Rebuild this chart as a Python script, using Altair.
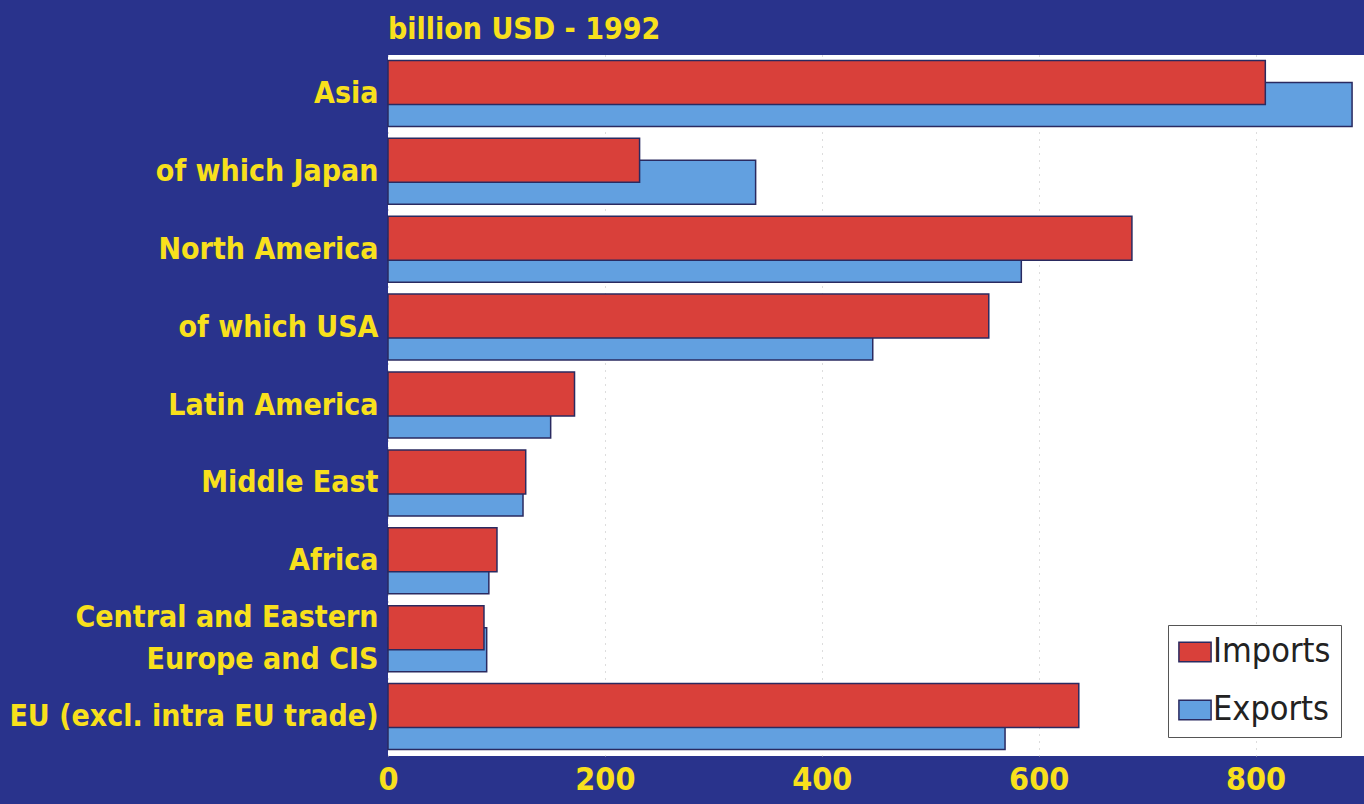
import altair as alt
import pandas as pd

categories = [
    "Asia",
    "of which Japan",
    "North America",
    "of which USA",
    "Latin America",
    "Middle East",
    "Africa",
    "Central and Eastern Europe and CIS",
    "EU (excl. intra EU trade)",
]
imports = [809, 232, 686, 554, 172, 127, 100.5, 88.5, 637]
exports = [889, 339, 584, 447, 150, 124.5, 93, 91, 569]
x_ticks = [0, 200, 400, 600, 800]

rows = []
for c, i, e in zip(categories, imports, exports):
    rows.append({"region": c, "flow": "Imports", "value": i})
    rows.append({"region": c, "flow": "Exports", "value": e})
df = pd.DataFrame(rows)

NAVY = "#29338c"
YELLOW = "#f8e01c"
RED = "#d9403a"
BLUE = "#62a0e0"
STROKE = "#2a2a60"
FONT = "DejaVu Sans Condensed, Liberation Sans Narrow, Roboto"

color = alt.Color(
    "flow:N",
    scale=alt.Scale(domain=["Imports", "Exports"], range=[RED, BLUE]),
    legend=alt.Legend(
        title=None,
        orient="none",
        legendX=780,
        legendY=570,
        fillColor="white",
        strokeColor="#555555",
        padding=10,
        labelFont="Liberation Sans Narrow, DejaVu Sans Condensed, Roboto",
        labelFontSize=34,
        labelColor="#222222",
        labelFontWeight="normal",
        labelLimit=300,
        symbolType="M-1.5,-0.9L1.5,-0.9L1.5,0.9L-1.5,0.9Z",
        symbolSize=460,
        symbolStrokeColor=STROKE,
        symbolStrokeWidth=1.5,
        symbolOpacity=1,
        rowPadding=24,
        labelOffset=1,
    ),
)

ML = "Central and Eastern Europe and CIS"

y = alt.Y(
    "region:N",
    sort=categories,
    scale=alt.Scale(paddingInner=0, paddingOuter=0),
    axis=alt.Axis(
        title=None,
        ticks=False,
        domain=False,
        labelFont=FONT,
        labelFontSize=30,
        labelFontWeight="bold",
        labelColor=YELLOW,
        labelPadding=10,
        labelLimit=400,
        labelLineHeight=42,
        labelOffset={"condition": {"test": f"datum.value == '{ML}'", "value": -21}, "value": 0},
        labelExpr=f"datum.label == '{ML}' ? ['Central and Eastern', 'Europe and CIS'] : datum.label",
    ),
)

x = alt.X(
    "value:Q",
    scale=alt.Scale(domain=[0, 900], nice=False, zero=True),
    axis=alt.Axis(
        title=None,
        values=x_ticks,
        ticks=False,
        domain=False,
        grid=True,
        gridColor="#bbbbbb",
        gridDash=[1, 6],
        gridWidth=1,
        labelFont=FONT,
        labelFontSize=32,
        labelFontWeight="bold",
        labelColor=YELLOW,
        labelPadding=8,
        labelFlush=False,
    ),
)

base = alt.Chart(df)

exp_layer = base.transform_filter(alt.datum.flow == "Exports").mark_bar(
    size=44, yOffset=10.5, stroke=STROKE, strokeWidth=1.5
).encode(x=x, y=y, color=color)

imp_layer = base.transform_filter(alt.datum.flow == "Imports").mark_bar(
    size=44, yOffset=-11.5, stroke=STROKE, strokeWidth=1.5
).encode(x=x, y=y, color=color)

chart = (
    alt.layer(exp_layer, imp_layer)
    .properties(
        width=976,
        height=701,
        title=alt.TitleParams(
            "billion USD - 1992",
            anchor="start",
            frame="group",
            font=FONT,
            fontSize=30,
            fontWeight="bold",
            color=YELLOW,
            offset=10,
        ),
        autosize=alt.AutoSizeParams(type="none"),
        padding={"left": 388, "top": 55, "right": 0, "bottom": 48},
    )
    .configure(background=NAVY)
    .configure_view(fill="white", stroke=None)
)

chart.save("out.html", embed_options={"renderer": "svg", "actions": False})
